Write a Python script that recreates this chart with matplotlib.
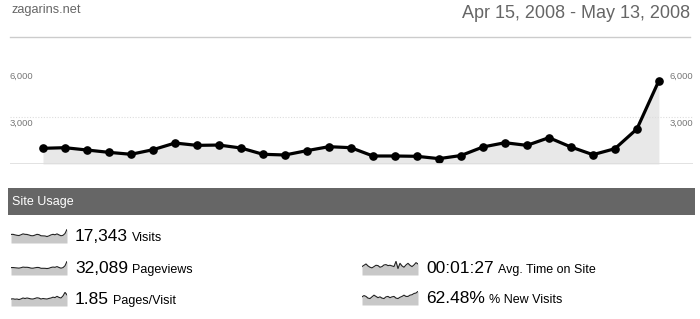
import matplotlib
matplotlib.use("Agg")
import matplotlib.pyplot as plt

plt.rcParams["font.family"] = ["Liberation Sans", "DejaVu Sans"]

W, H = 700, 319

# daily pageviews, Apr 15 - May 13, 2008
days = list(range(29))
pageviews = [1010, 1050, 900, 750, 625, 920, 1350, 1200, 1220, 1030,
             625, 580, 860, 1115, 1050, 515, 515, 495, 345, 545,
             1095, 1370, 1200, 1695, 1095, 600, 985, 2255, 5365]
y_ticks = [3000, 6000]
y_tick_labels = ["3,000", "6,000"]

# sparkline series (rough shapes read from the thumbnails)
visits = [640, 650, 600, 560, 540, 610, 690, 650, 640, 590,
          530, 520, 580, 650, 620, 520, 510, 500, 450, 510,
          600, 650, 610, 690, 600, 520, 560, 720, 1100]
pages_per_visit = [1.60, 1.62, 1.58, 1.60, 1.55, 1.61, 1.70, 1.65, 1.70, 1.66,
                   1.61, 1.60, 1.66, 1.72, 1.69, 1.60, 1.65, 1.62, 1.60, 1.66,
                   1.70, 1.78, 1.74, 1.86, 1.76, 1.70, 1.90, 2.25, 2.00]
avg_time = [80, 84, 88, 82, 78, 76, 80, 84, 83, 78,
            80, 85, 86, 83, 84, 82, 80, 96, 74, 90,
            82, 78, 85, 90, 84, 80, 85, 92, 88]
new_visits = [62.0, 62.6, 62.2, 61.4, 61.2, 62.0, 62.8, 62.2, 61.6, 62.0,
              61.4, 61.2, 62.0, 62.2, 61.6, 62.0, 62.2, 61.4, 61.2, 61.8,
              62.2, 62.8, 62.2, 62.2, 62.8, 63.0, 63.6, 63.8, 64.6]

site_name = "zagarins.net"
date_range = "Apr 15, 2008 - May 13, 2008"
left_metrics = [("17,343", "Visits", visits),
                ("32,089", "Pageviews", pageviews),
                ("1.85", "Pages/Visit", pages_per_visit)]
right_metrics = [("00:01:27", "Avg. Time on Site", avg_time),
                 ("62.48%", "% New Visits", new_visits)]


def box(x, y, w, h):
    # pixel box (top-left origin) -> figure fraction rect
    return [x / W, 1 - (y + h) / H, w / W, h / H]


fig = plt.figure(figsize=(W / 100, H / 100), dpi=100)
bg = fig.add_axes([0, 0, 1, 1])
bg.set_xlim(0, W)
bg.set_ylim(H, 0)
bg.axis("off")

bg.text(12, 10, site_name, fontsize=9.2, color="#666666", va="center")
bg.text(690, 13, date_range, fontsize=13, color="#666666", va="center", ha="right")
bg.plot([10, 690], [37, 37], color="#cccccc", lw=1)

# main chart
ax = fig.add_axes(box(10, 60, 683, 104))
ax.set_xlim(-1.5, 29.55)
ax.set_ylim(0, 6695)
ax.axis("off")
ax.axhline(3000, color="#dddddd", lw=0.8, ls=(0, (1, 1.5)))
ax.fill_between(days, pageviews, 0, color="#e8e8e8", lw=0)
ax.plot(days, pageviews, color="black", lw=2.3, marker="o", markersize=5.2,
        solid_joinstyle="round")
ax.axhline(0, color="#dddddd", lw=1.2)
for v, lab in zip(y_ticks, y_tick_labels):
    ypx = 164 - v / 3000 * 46.6 + 6
    bg.text(10, ypx, lab, fontsize=6.8, color="#777777", va="center")
    bg.text(670, ypx, lab, fontsize=6.8, color="#777777", va="center")

# Site Usage header
bg.add_patch(plt.Rectangle((8, 188), 687, 27, color="#666666", lw=0))
bg.text(12, 202, "Site Usage", fontsize=9, color="white", va="center")


def metric(x, y_bottom, value, label, series):
    sp = fig.add_axes(box(x, y_bottom - 14, 56, 14))
    lo, hi = min(series), max(series)
    span = hi - lo
    sp.set_xlim(0, len(series) - 1)
    sp.set_ylim(lo - span * 0.9, hi + span * 0.05)
    sp.axis("off")
    sp.fill_between(range(len(series)), series, lo - span * 0.9, color="#c8c8c8", lw=0)
    sp.plot(range(len(series)), series, color="#222222", lw=0.8)
    t = bg.text(x + 64, y_bottom - 2, value, fontsize=12.5, color="black", va="baseline")
    bg.annotate(label, xy=(1, 0), xycoords=t, xytext=(3, 0), textcoords="offset points",
                fontsize=9, color="black", va="bottom")


for (value, label, series), yb in zip(left_metrics, [243, 275, 306]):
    metric(11, yb, value, label, series)
for (value, label, series), yb in zip(right_metrics, [275, 305]):
    metric(362, yb, value, label, series)

fig.savefig("out.png", dpi=100)
